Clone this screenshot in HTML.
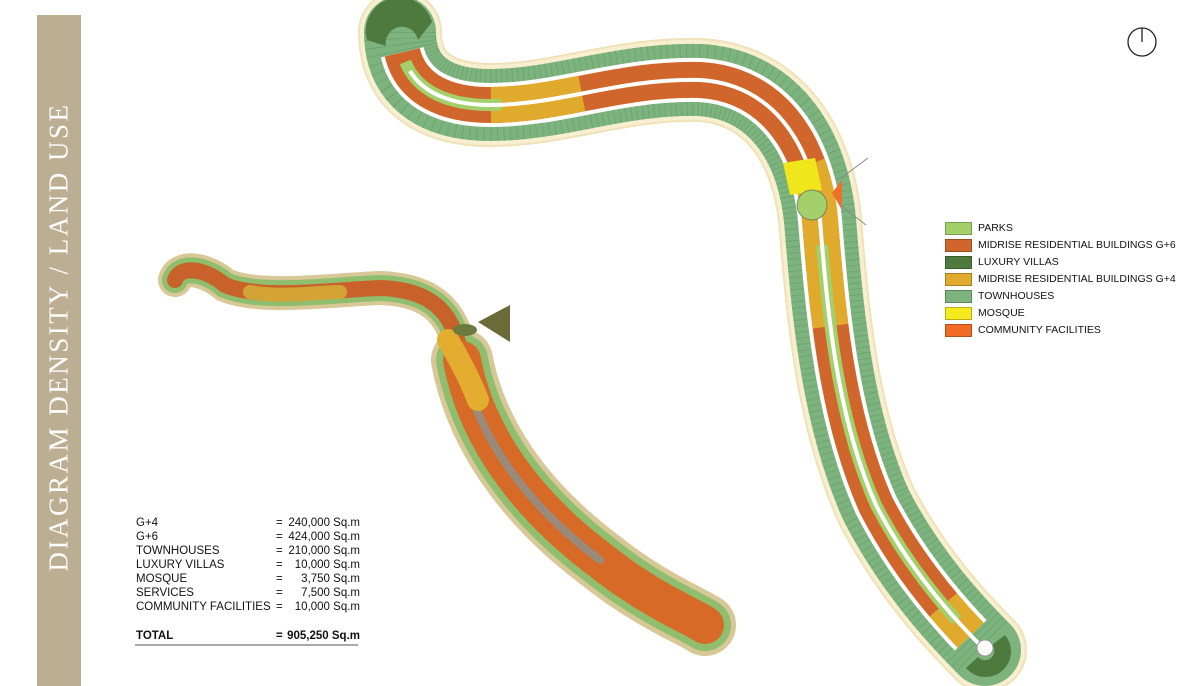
<!DOCTYPE html>
<html><head><meta charset="utf-8"><style>
body{margin:0;width:1200px;height:686px;background:#fff;position:relative;overflow:hidden;font-family:"Liberation Sans",sans-serif}
.bar{position:absolute;left:37px;top:15px;width:44px;height:671px;background:#bcae93}
.bar span{position:absolute;left:22px;top:322px;transform:translate(-50%,-50%) rotate(-90deg);white-space:nowrap;color:#fff;font-family:"Liberation Serif",serif;font-size:27px;letter-spacing:2.5px}
.leg{position:absolute;left:945px;font-size:10.5px;color:#111}
.leg i{position:absolute;left:0;width:27px;height:13px;border:1px solid rgba(0,0,0,.25);box-sizing:border-box}
.leg b{position:absolute;left:33px;top:0;font-weight:normal;white-space:nowrap}
.r{position:absolute;font-size:11.5px;color:#111;height:14px;line-height:14px;white-space:nowrap}
.l{left:136px}.e{left:276px}.n{left:284px;width:76px;text-align:right}
</style></head><body>
<div class="bar"><span>DIAGRAM DENSITY / LAND USE</span></div>
<svg width="1200" height="686" style="position:absolute;left:0;top:0">
<g fill="none" stroke-linejoin="round">
<path d="M400,32 C400,85 440,105 490,105 C560,105 620,78 700,80 C770,84 812,140 820,220 C828,320 838,420 876,505 C912,575 960,625 985,650" stroke="#efe2b8" stroke-width="84" stroke-linecap="round"/>
<path d="M400,32 C400,85 440,105 490,105 C560,105 620,78 700,80 C770,84 812,140 820,220 C828,320 838,420 876,505 C912,575 960,625 985,650" stroke="#f7efcf" stroke-width="80" stroke-linecap="round"/>
<path d="M400,32 C400,85 440,105 490,105 C560,105 620,78 700,80 C770,84 812,140 820,220 C828,320 838,420 876,505 C912,575 960,625 985,650" stroke="#7db37e" stroke-width="72" stroke-linecap="round"/>
<path d="M400,32 C400,85 440,105 490,105 C560,105 620,78 700,80 C770,84 812,140 820,220 C828,320 838,420 876,505 C912,575 960,625 985,650" stroke="#6fa56f" stroke-width="72" stroke-dasharray="1 5"/>
<path d="M400,32 C400,85 440,105 490,105 C560,105 620,78 700,80 C770,84 812,140 820,220 C828,320 838,420 876,505 C912,575 960,625 985,650" stroke="#fff" stroke-width="44" pathLength="100" stroke-dasharray="0 2 96 2"/>
<path d="M400,32 C400,85 440,105 490,105 C560,105 620,78 700,80 C770,84 812,140 820,220 C828,320 838,420 876,505 C912,575 960,625 985,650" stroke="#d0662b" stroke-width="36" pathLength="100" stroke-dasharray="0 2 92 6"/>
<path d="M400,32 C400,85 440,105 490,105 C560,105 620,78 700,80 C770,84 812,140 820,220 C828,320 838,420 876,505 C912,575 960,625 985,650" stroke="#e0aa2c" stroke-width="36" pathLength="100" stroke-dasharray="0 13 9 26 16 30 4 100"/>
<path d="M400,32 C400,85 440,105 490,105 C560,105 620,78 700,80 C770,84 812,140 820,220 C828,320 838,420 876,505 C912,575 960,625 985,650" stroke="#a3d06a" stroke-width="12" pathLength="100" stroke-dasharray="0 3 11 42 40 100"/>
<path d="M400,32 C400,85 440,105 490,105 C560,105 620,78 700,80 C770,84 812,140 820,220 C828,320 838,420 876,505 C912,575 960,625 985,650" stroke="#fff" stroke-width="4" pathLength="100" stroke-dasharray="0 4 96"/>
</g>
<path d="M367,40 A32,32 0 0 1 432,22 L418,40 A16,16 0 0 0 386,46 Z" fill="#4f7a3e"/>
<path d="M966,668 A24,24 0 0 0 1005,635 L992,645 A9,9 0 0 1 978,657 Z" fill="#4f7a3e"/>
<path d="M783,163 L815,158 L822,190 L790,195 Z" fill="#f0e61c"/>
<circle cx="812" cy="205" r="15" fill="#a3d06a" stroke="#666" stroke-width=".7"/>
<path d="M832,193 L842,180 L842,210 Z" fill="#f07028"/>
<path d="M841,178 L868,158 M840,205 L866,225" stroke="#888" stroke-width="1"/>
<circle cx="985" cy="648" r="8" fill="#fff" stroke="#999"/>
<g fill="none" stroke-linecap="round" stroke-linejoin="round">
<path d="M175,280 C180,265 205,268 225,285 C260,300 330,290 380,288 C440,290 455,320 462,360 C475,430 520,500 600,560 C650,600 690,615 705,625" stroke="#d8c898" stroke-width="34"/>
<path d="M462,360 C475,430 520,500 600,560 C650,600 690,615 705,625" stroke="#d8c898" stroke-width="62"/>
<path d="M175,280 C180,265 205,268 225,285 C260,300 330,290 380,288 C440,290 455,320 462,360 C475,430 520,500 600,560 C650,600 690,615 705,625" stroke="#8fbf6e" stroke-width="26" stroke-dasharray="6 2"/>
<path d="M462,360 C475,430 520,500 600,560 C650,600 690,615 705,625" stroke="#8fbf6e" stroke-width="52" stroke-dasharray="6 2"/>
<path d="M175,280 C180,265 205,268 225,285 C260,300 330,290 380,288 C440,290 455,320 462,360" stroke="#c8622a" stroke-width="16" stroke-dasharray="9 2"/>
<path d="M462,360 C475,430 520,500 600,560 C650,600 690,615 705,625" stroke="#d66a26" stroke-width="38" stroke-dasharray="9 3"/>
<path d="M462,360 C475,430 520,500 600,560 C650,600 690,615" stroke="#9b8a7a" stroke-width="8"/>
<path d="M250,292 C280,298 320,292 340,292" stroke="#d4a335" stroke-width="14" stroke-dasharray="8 3"/>
<path d="M448,340 C460,360 470,380 478,400" stroke="#e3ad2f" stroke-width="22" stroke-dasharray="5 2"/>
</g>
<ellipse cx="465" cy="330" rx="12" ry="6" fill="#6b7a3e"/>
<path d="M478,322 L510,305 L510,342 Z" fill="#6b6b3a"/>
<circle cx="1142" cy="42" r="14" fill="none" stroke="#222" stroke-width="1.3"/>
<line x1="1142" y1="28" x2="1142" y2="42" stroke="#222" stroke-width="1.3"/>
<line x1="135" y1="645" x2="358" y2="645" stroke="#555" stroke-width="1"/>
</svg>
<div class="leg" style="top:222px"><i style="background:#a3d06a"></i><b>PARKS</b></div>
<div class="leg" style="top:239px"><i style="background:#d0662b"></i><b>MIDRISE RESIDENTIAL BUILDINGS G+6</b></div>
<div class="leg" style="top:256px"><i style="background:#4f7a3e"></i><b>LUXURY VILLAS</b></div>
<div class="leg" style="top:273px"><i style="background:#e0aa2c"></i><b>MIDRISE RESIDENTIAL BUILDINGS G+4</b></div>
<div class="leg" style="top:290px"><i style="background:#7db37e"></i><b>TOWNHOUSES</b></div>
<div class="leg" style="top:307px"><i style="background:#f4ea1c"></i><b>MOSQUE</b></div>
<div class="leg" style="top:324px"><i style="background:#f26a24"></i><b>COMMUNITY FACILITIES</b></div>
<div class="r l" style="top:516px">G+4</div><div class="r e" style="top:516px">=</div><div class="r n" style="top:516px">240,000 Sq.m</div>
<div class="r l" style="top:530px">G+6</div><div class="r e" style="top:530px">=</div><div class="r n" style="top:530px">424,000 Sq.m</div>
<div class="r l" style="top:544px">TOWNHOUSES</div><div class="r e" style="top:544px">=</div><div class="r n" style="top:544px">210,000 Sq.m</div>
<div class="r l" style="top:558px">LUXURY VILLAS</div><div class="r e" style="top:558px">=</div><div class="r n" style="top:558px">10,000 Sq.m</div>
<div class="r l" style="top:572px">MOSQUE</div><div class="r e" style="top:572px">=</div><div class="r n" style="top:572px">3,750 Sq.m</div>
<div class="r l" style="top:586px">SERVICES</div><div class="r e" style="top:586px">=</div><div class="r n" style="top:586px">7,500 Sq.m</div>
<div class="r l" style="top:600px">COMMUNITY FACILITIES</div><div class="r e" style="top:600px">=</div><div class="r n" style="top:600px">10,000 Sq.m</div>
<div class="r l" style="top:629px;font-weight:bold">TOTAL</div><div class="r e" style="top:629px;font-weight:bold">=</div><div class="r n" style="top:629px;font-weight:bold">905,250 Sq.m</div>
</body></html>
